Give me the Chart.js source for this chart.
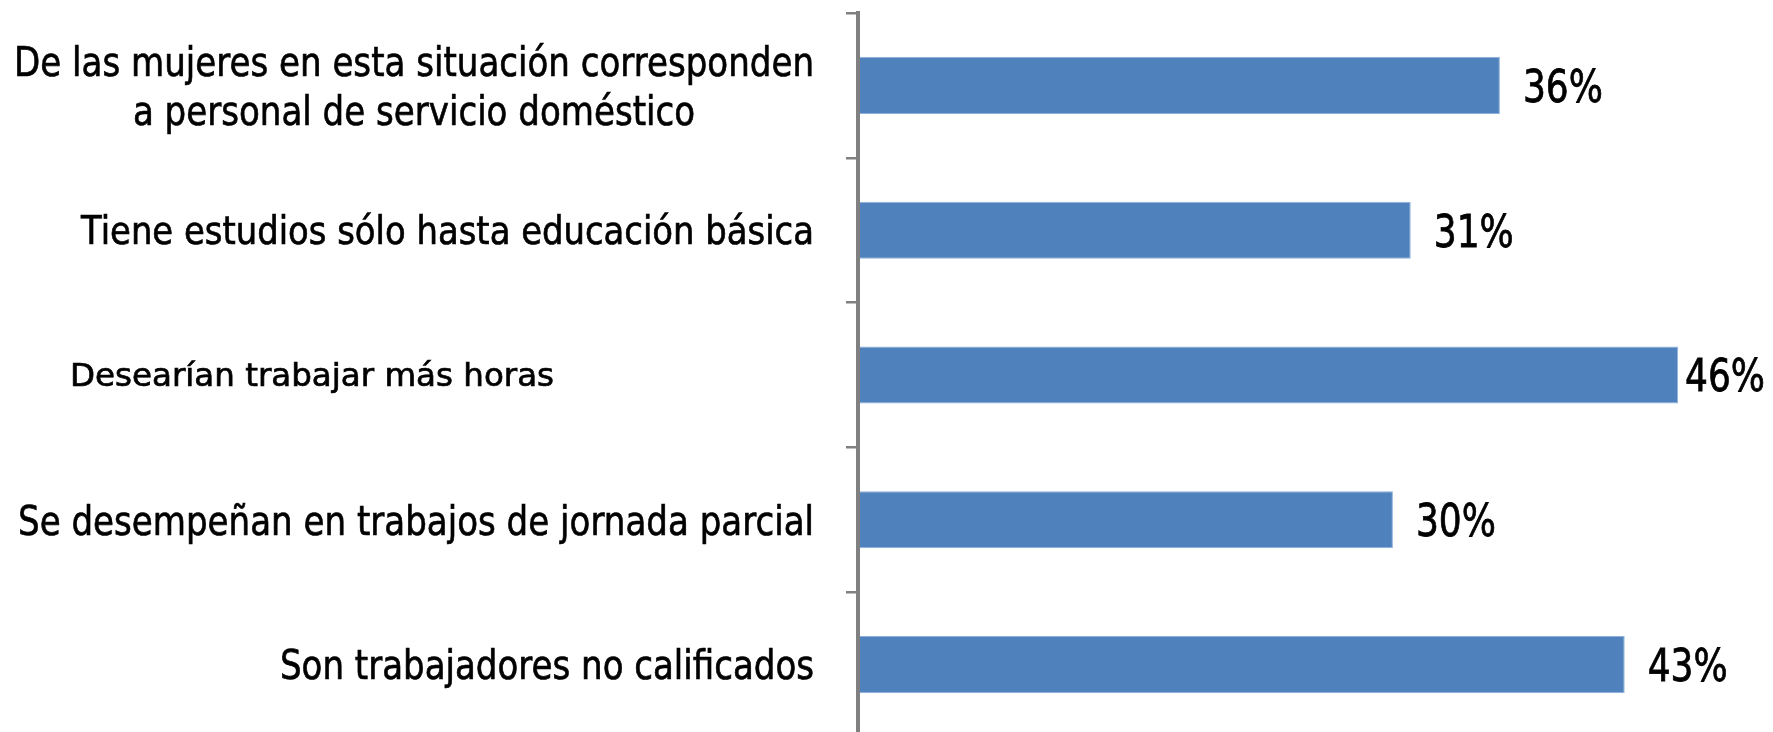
<!DOCTYPE html>
<html>
<head>
<meta charset="utf-8">
<script src="https://cdn.jsdelivr.net/npm/chart.js@4"></script>
<style>
  html, body { margin: 0; padding: 0; background: #fff; overflow: hidden; }
  #wrap { width: 1773px; height: 737px; position: relative; }
</style>
</head>
<body>
<div id="wrap"><canvas id="barChart"></canvas></div>
<script>
const categories = [
  ['De las mujeres en esta situación corresponden', 'a personal de servicio doméstico'],
  ['Tiene estudios sólo hasta educación básica'],
  ['Desearían trabajar más horas'],
  ['Se desempeñan en trabajos de jornada parcial'],
  ['Son trabajadores no calificados'],
];
const values = [36, 31, 46, 30, 43];
const axisMax = 50;

// how each category label is drawn (the source squeezes most of them horizontally)
const labelStyle = [
  { size: 41, fit: 800, align: 'right', lineGap: 49 },
  { size: 38.5, fit: 733, align: 'right' },
  { size: 31.5, fit: 484, align: 'left', x: 70 },
  { size: 41, fit: 796, align: 'right' },
  { size: 40, fit: 534, align: 'right' },
];
const FONT = '"DejaVu Sans", Verdana, sans-serif';
const GREY = '#808080';

// draw text squeezed by sx, with a hairline stroke to thicken it like the source
function squeezedText(ctx, txt, x, y, sx) {
  ctx.save();
  ctx.translate(x, y);
  ctx.scale(sx, 1);
  ctx.fillText(txt, 0, 0);
  ctx.strokeText(txt, 0, 0);
  ctx.restore();
}

const categoryLabels = {
  id: 'categoryLabels',
  afterDraw(chart) {
    const { ctx, scales: { y } } = chart;
    const right = chart.chartArea.left - 44;
    ctx.save();
    ctx.fillStyle = '#000';
    ctx.strokeStyle = '#000';
    ctx.lineWidth = 0.7;
    ctx.textAlign = 'left';
    ctx.textBaseline = 'alphabetic';
    categories.forEach((lines, i) => {
      const st = labelStyle[i];
      ctx.font = `${st.size}px ${FONT}`;
      const widest = Math.max(...lines.map(l => ctx.measureText(l).width));
      const sx = st.fit / widest;
      const blockW = widest * sx;
      const cx = st.align === 'left' ? st.x + blockW / 2 : right - blockW / 2;
      const cy = y.getPixelForValue(i);
      const cap = st.size * 0.729;
      lines.forEach((line, j) => {
        const lw = ctx.measureText(line).width * sx;
        const base = cy + cap / 2 + (j - (lines.length - 1) / 2) * (st.lineGap || 0);
        squeezedText(ctx, line, cx - lw / 2, base, sx);
      });
    });
    ctx.restore();
  },
};

const valueLabels = {
  id: 'valueLabels',
  afterDatasetsDraw(chart) {
    const { ctx } = chart;
    const meta = chart.getDatasetMeta(0);
    const size = 45, sx = 0.8;
    ctx.save();
    ctx.font = `${size}px ${FONT}`;
    ctx.fillStyle = '#000';
    ctx.strokeStyle = '#000';
    ctx.lineWidth = 0.8;
    ctx.textBaseline = 'alphabetic';
    meta.data.forEach((bar, i) => {
      const txt = values[i] + '%';
      const w = ctx.measureText(txt).width * sx;
      let x = bar.x + 23;
      if (x + w > chart.width - 8) x = chart.width - 8 - w;
      squeezedText(ctx, txt, x, bar.y + size * 0.729 / 2, sx);
    });
    ctx.restore();
  },
};

new Chart(document.getElementById('barChart').getContext('2d'), {
  type: 'bar',
  data: {
    labels: categories,
    datasets: [{
      data: values,
      backgroundColor: '#4f81bd',
      borderColor: '#8fb0da',
      borderWidth: 1,
      borderSkipped: 'left',
      categoryPercentage: 1,
      barPercentage: 0.394,
    }],
  },
  options: {
    indexAxis: 'y',
    responsive: true,
    maintainAspectRatio: false,
    animation: false,
    layout: { padding: { top: 13, right: 23.5, left: 0, bottom: 0 } },
    plugins: { legend: { display: false }, tooltip: { enabled: false } },
    scales: {
      x: { display: false, min: 0, max: axisMax },
      y: {
        ticks: { display: false },
        grid: { drawOnChartArea: false, drawTicks: true, tickLength: 12, color: GREY, lineWidth: 2.5, offset: true },
        border: { display: true, color: GREY, width: 4, z: 1 },
        afterFit: s => { s.width = 858; },
      },
    },
  },
  plugins: [categoryLabels, valueLabels],
});
</script>
</body>
</html>
